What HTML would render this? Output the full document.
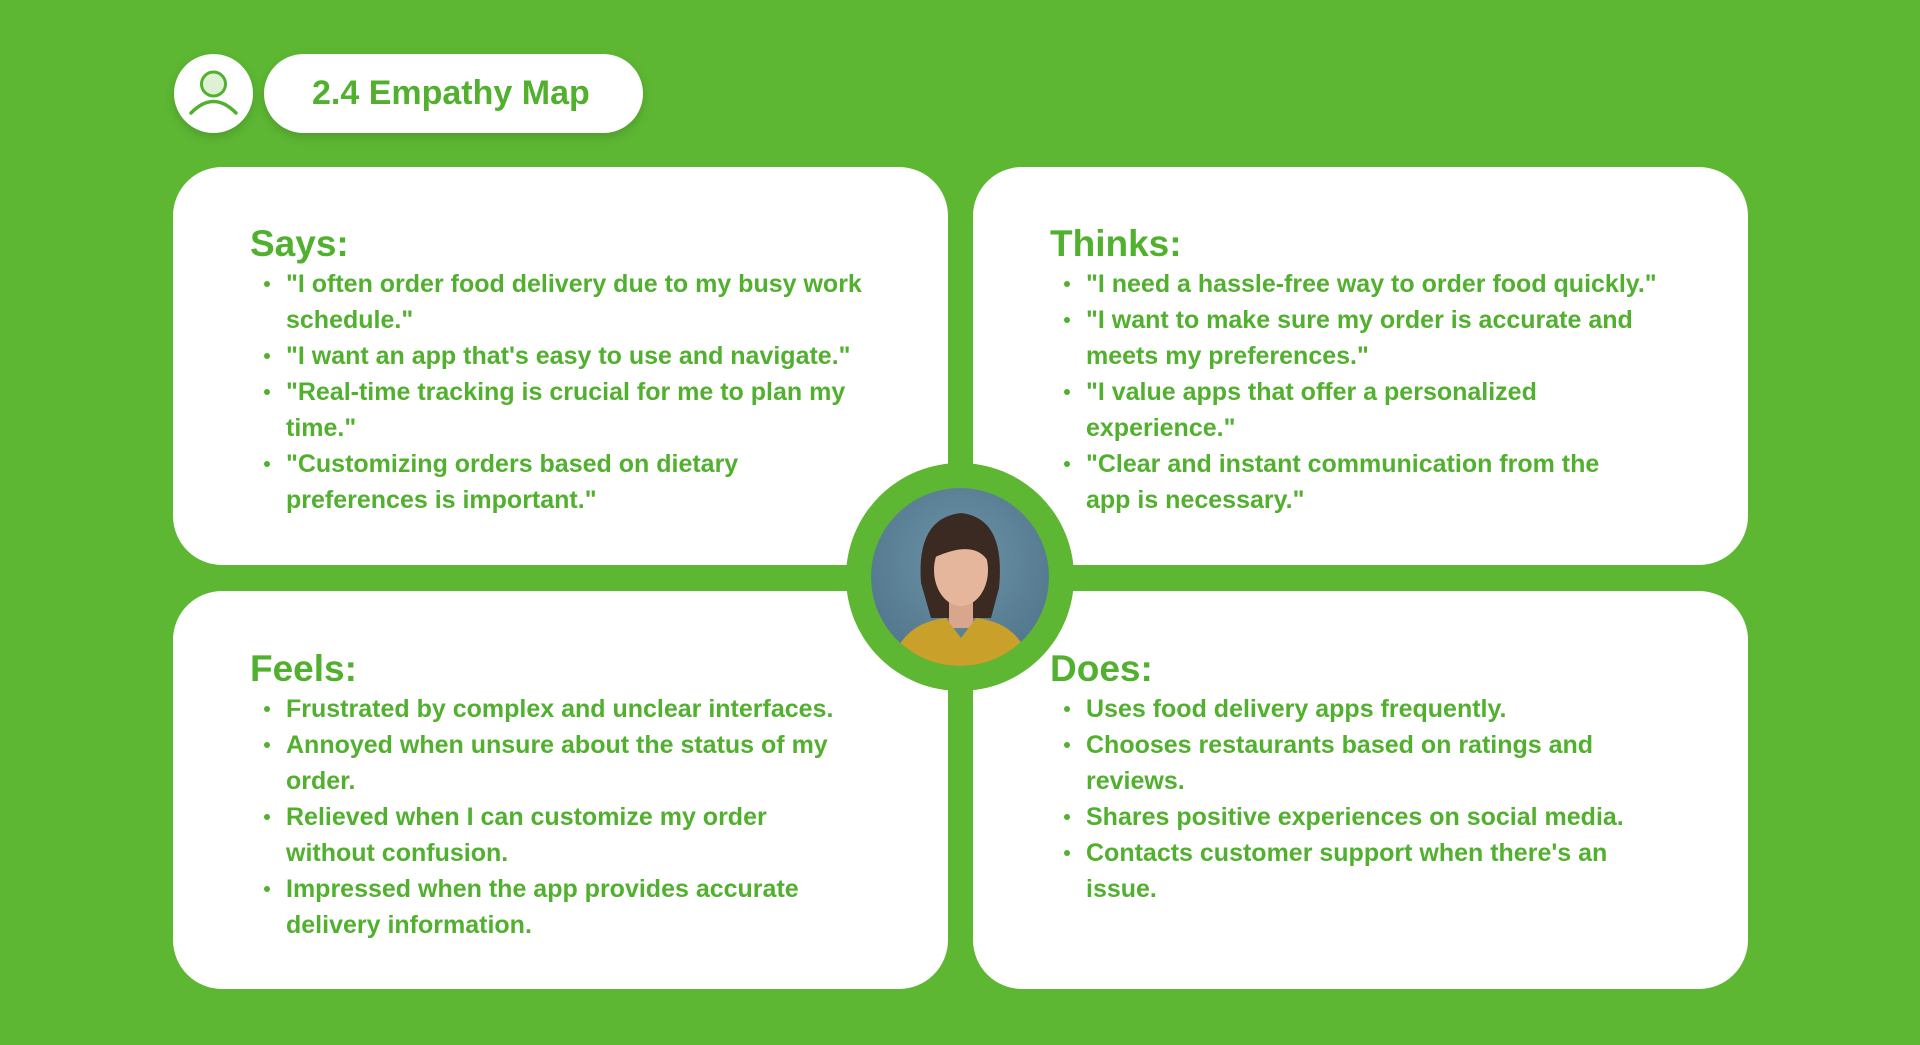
<!DOCTYPE html>
<html><head><meta charset="utf-8"><style>
*{margin:0;padding:0;box-sizing:border-box}
body{width:1920px;height:1045px;background:#5db733;position:relative;overflow:hidden;font-family:"Liberation Sans",sans-serif;color:#52b02f}
.ic{position:absolute;left:174px;top:54px;width:79px;height:79px;border-radius:50%;background:#fff;box-shadow:0 4px 10px rgba(0,0,0,.15)}
.pill{position:absolute;left:264px;top:54px;width:379px;height:79px;border-radius:40px;background:#fff;box-shadow:0 4px 10px rgba(0,0,0,.15);font-weight:bold;font-size:34px;line-height:79px;padding-left:48px}
.card{position:absolute;width:775px;height:398px;background:#fff;border-radius:49px}
.h{position:absolute;font-weight:bold;font-size:37px;line-height:44px}
ul{position:absolute;list-style:none;font-weight:bold;font-size:25px;line-height:36px;white-space:nowrap}
li{position:relative;padding-left:0}
li.b::before{content:"";position:absolute;left:-22px;top:15px;width:6px;height:6px;border-radius:50%;background:#52b02f}
.ring{position:absolute;left:846px;top:463px;width:228px;height:228px;border-radius:50%;background:#5db733}
.photo{position:absolute;left:871px;top:488px;width:178px;height:178px;border-radius:50%;overflow:hidden;background:radial-gradient(circle at 50% 40%,#6d93a8,#4a6f86)}
</style></head><body>
<div class="ic"><svg width="79" height="79" viewBox="0 0 79 79"><circle cx="39.5" cy="30" r="12" fill="#dff1d4" stroke="#52b02f" stroke-width="3"/><path d="M17 59 Q39.5 36 62 59" fill="none" stroke="#52b02f" stroke-width="3.5" stroke-linecap="round"/></svg></div>
<div class="pill">2.4 Empathy Map</div>

<div class="card" style="left:173px;top:167px"></div>
<div class="card" style="left:973px;top:167px"></div>
<div class="card" style="left:173px;top:591px"></div>
<div class="card" style="left:973px;top:591px"></div>

<div class="h" style="left:250px;top:222px">Says:</div>
<ul style="left:286px;top:266px">
<li class="b">"I often order food delivery due to my busy work</li><li>schedule."</li>
<li class="b">"I want an app that's easy to use and navigate."</li>
<li class="b">"Real-time tracking is crucial for me to plan my</li><li>time."</li>
<li class="b">"Customizing orders based on dietary</li><li>preferences is important."</li></ul>

<div class="h" style="left:1050px;top:222px">Thinks:</div>
<ul style="left:1086px;top:266px">
<li class="b">"I need a hassle-free way to order food quickly."</li>
<li class="b">"I want to make sure my order is accurate and</li><li>meets my preferences."</li>
<li class="b">"I value apps that offer a personalized</li><li>experience."</li>
<li class="b">"Clear and instant communication from the</li><li>app is necessary."</li></ul>

<div class="h" style="left:250px;top:647px">Feels:</div>
<ul style="left:286px;top:691px">
<li class="b">Frustrated by complex and unclear interfaces.</li>
<li class="b">Annoyed when unsure about the status of my</li><li>order.</li>
<li class="b">Relieved when I can customize my order</li><li>without confusion.</li>
<li class="b">Impressed when the app provides accurate</li><li>delivery information.</li></ul>

<div class="h" style="left:1050px;top:647px">Does:</div>
<ul style="left:1086px;top:691px">
<li class="b">Uses food delivery apps frequently.</li>
<li class="b">Chooses restaurants based on ratings and</li><li>reviews.</li>
<li class="b">Shares positive experiences on social media.</li>
<li class="b">Contacts customer support when there's an</li><li>issue.</li></ul>

<div class="ring"></div>
<div class="photo"><svg width="178" height="178" viewBox="0 0 178 178">
<path d="M50 95 Q45 30 90 25 Q135 30 128 100 L120 130 L60 130 Z" fill="#3a2a22"/>
<rect x="78" y="110" width="24" height="30" fill="#d9a58c"/>
<ellipse cx="90" cy="82" rx="27" ry="36" fill="#e6b69c"/>
<path d="M62 70 Q70 35 95 40 Q118 45 118 75 Q105 50 62 70Z" fill="#3a2a22"/>
<path d="M20 178 Q30 135 75 130 L90 150 L105 130 Q150 135 160 178Z" fill="#c9a12a"/>
</svg></div>
</body></html>
